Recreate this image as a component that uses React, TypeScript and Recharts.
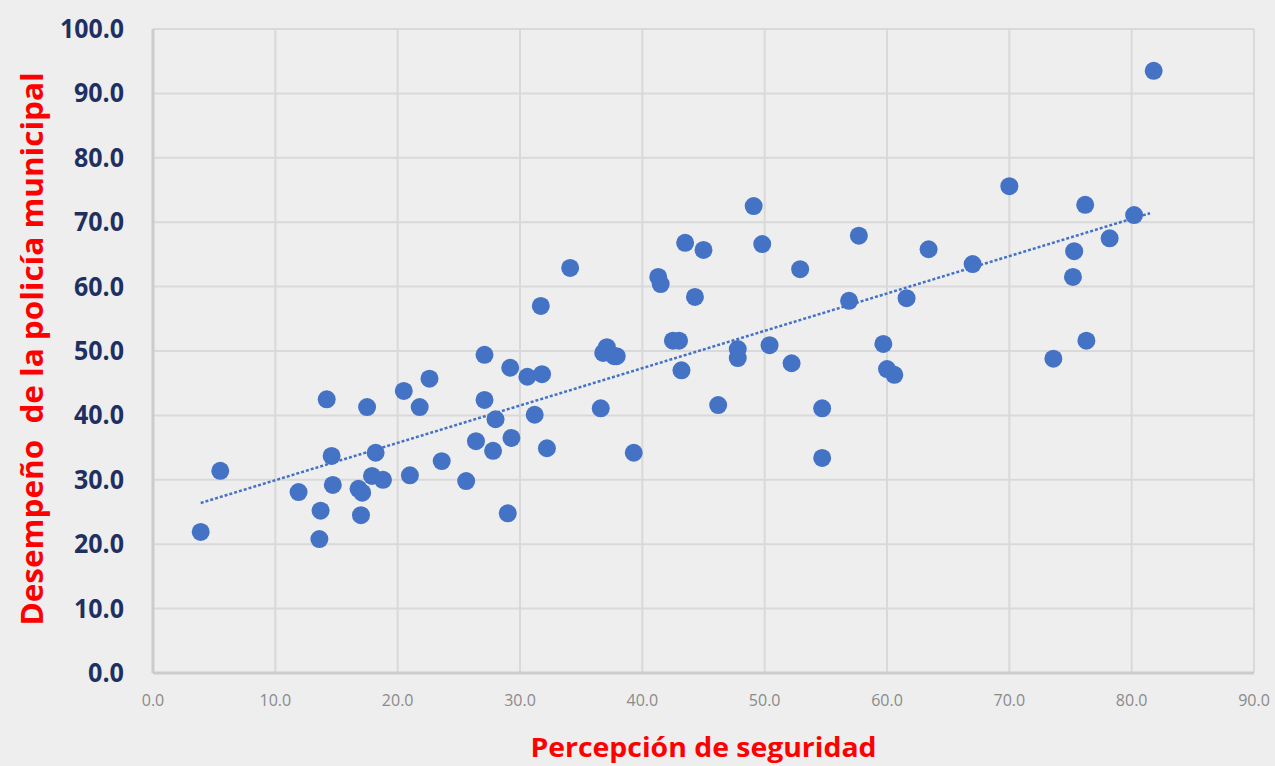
import React from "react";
import {
  ScatterChart,
  Scatter,
  XAxis,
  YAxis,
  ZAxis,
  CartesianGrid,
  ReferenceLine,
  Label,
} from "recharts";

// Percepción de seguridad (x)
const percepcion = [
  3.9, 5.5, 11.9, 14.2, 14.6, 14.7, 13.7, 13.6, 17.5, 16.8, 17.1, 17.0, 18.2,
  17.9, 18.8, 20.5, 21.8, 21.0, 22.6, 23.6, 25.6, 26.4, 27.1, 27.1, 28.0, 27.8,
  29.0, 29.2, 29.3, 30.6, 31.2, 31.8, 31.7, 32.2, 34.1, 36.6, 36.8, 37.1, 37.7,
  37.9, 39.3, 41.3, 41.5, 42.5, 43.0, 43.2, 43.5, 44.3, 45.0, 46.2, 47.8, 47.8,
  49.1, 49.8, 50.4, 52.2, 52.9, 54.7, 54.7, 56.9, 57.7, 59.7, 60.0, 60.6, 61.6,
  63.4, 67.0, 70.0, 73.6, 75.3, 75.2, 76.2, 76.3, 78.2, 80.2, 81.8,
];

// Desempeño de la policía municipal (y)
const desempeno = [
  21.9, 31.4, 28.1, 42.5, 33.7, 29.2, 25.2, 20.8, 41.3, 28.6, 28.0, 24.5, 34.2,
  30.6, 30.0, 43.8, 41.3, 30.7, 45.7, 32.9, 29.8, 36.0, 49.4, 42.4, 39.4, 34.5,
  24.8, 47.4, 36.5, 46.0, 40.1, 46.4, 57.0, 34.9, 62.9, 41.1, 49.7, 50.6, 49.2,
  49.2, 34.2, 61.5, 60.4, 51.6, 51.6, 47.0, 66.8, 58.4, 65.7, 41.6, 50.3, 48.9,
  72.5, 66.6, 50.9, 48.1, 62.7, 41.1, 33.4, 57.8, 67.9, 51.1, 47.2, 46.3, 58.2,
  65.8, 63.5, 75.6, 48.8, 65.5, 61.5, 72.7, 51.6, 67.5, 71.1, 93.5,
];

// Trend line endpoints
const trendX = [3.9, 81.5];
const trendY = [26.4, 71.4];

const xTicks = [0, 10, 20, 30, 40, 50, 60, 70, 80, 90];
const yTicks = [0, 10, 20, 30, 40, 50, 60, 70, 80, 90, 100];

const xTitle = "Percepción de seguridad";
const yTitle = "Desempeño  de la policía municipal";

const data = percepcion.map((x, i) => ({ x, y: desempeno[i] }));
const trendSegment = trendX.map((x, i) => ({ x, y: trendY[i] }));

const BLUE = "#4472C4";
const RED = "#FF0000";

const YTick = (props: any) => {
  const { x, y, payload } = props;
  const label = Number(payload.value).toFixed(1);
  const digits = label.replace(".", "").length;
  const w = digits * 14 + 8;
  return (
    <text
      x={x}
      y={y}
      dy={9}
      textAnchor="end"
      fill="#1f3060"
      fontSize={26}
      fontWeight="bold"
      fontFamily="'Open Sans', sans-serif"
      textLength={w}
      lengthAdjust="spacingAndGlyphs"
    >
      {label}
    </text>
  );
};

export default function App() {
  return (
    <div
      style={{
        position: "absolute",
        left: 0,
        top: 0,
        width: 1275,
        height: 766,
        background: "#eeeeee",
      }}
    >
      <ScatterChart
        width={1275}
        height={766}
        margin={{ top: 29, right: 21, left: 0, bottom: 0 }}
      >
        <CartesianGrid stroke="#d9d9d9" strokeWidth={2} />
        <XAxis
          type="number"
          dataKey="x"
          domain={[0, 90]}
          ticks={xTicks}
          interval={0}
          tickFormatter={(v: number) => v.toFixed(1)}
          height={93}
          tickLine={false}
          tickSize={0}
          tickMargin={22}
          axisLine={{ stroke: "#cccccc", strokeWidth: 3 }}
          tick={{
            fill: "#8a8a8a",
            fontSize: 16,
            fontFamily: "'Open Sans', sans-serif",
          }}
        >
          <Label
            content={(props: any) => {
              const vb = props.viewBox || {};
              return (
                <text
                  x={vb.x + vb.width / 2}
                  y={vb.y + 84}
                  textAnchor="middle"
                  fill={RED}
                  fontSize={26}
                  fontWeight="bold"
                  fontFamily="'Open Sans', sans-serif"
                  textLength={346}
                  lengthAdjust="spacingAndGlyphs"
                >
                  {xTitle}
                </text>
              );
            }}
          />
        </XAxis>
        <YAxis
          type="number"
          dataKey="y"
          domain={[0, 100]}
          ticks={yTicks}
          interval={0}
          width={153}
          tickLine={false}
          tickSize={0}
          tickMargin={29}
          axisLine={{ stroke: "#cccccc", strokeWidth: 3 }}
          tick={<YTick />}
        >
          <Label
            content={(props: any) => {
              const vb = props.viewBox || {};
              const cx = 43;
              const cy = vb.y + vb.height / 2 - 2;
              return (
                <text
                  x={cx}
                  y={cy}
                  transform={`rotate(-90 ${cx} ${cy})`}
                  textAnchor="middle"
                  fill={RED}
                  fontSize={30}
                  fontWeight="bold"
                  fontFamily="'Open Sans', sans-serif"
                  textLength={553}
                  lengthAdjust="spacingAndGlyphs"
                  xmlSpace="preserve"
                  style={{ whiteSpace: "pre" }}
                >
                  {yTitle}
                </text>
              );
            }}
          />
        </YAxis>
        <ZAxis range={[254, 254]} />
        <ReferenceLine
          segment={trendSegment}
          stroke={BLUE}
          strokeWidth={2.5}
          strokeDasharray="3 2"
          ifOverflow="extendDomain"
        />
        <Scatter
          data={data}
          fill={BLUE}
          shape="circle"
          isAnimationActive={false}
        />
      </ScatterChart>
    </div>
  );
}
